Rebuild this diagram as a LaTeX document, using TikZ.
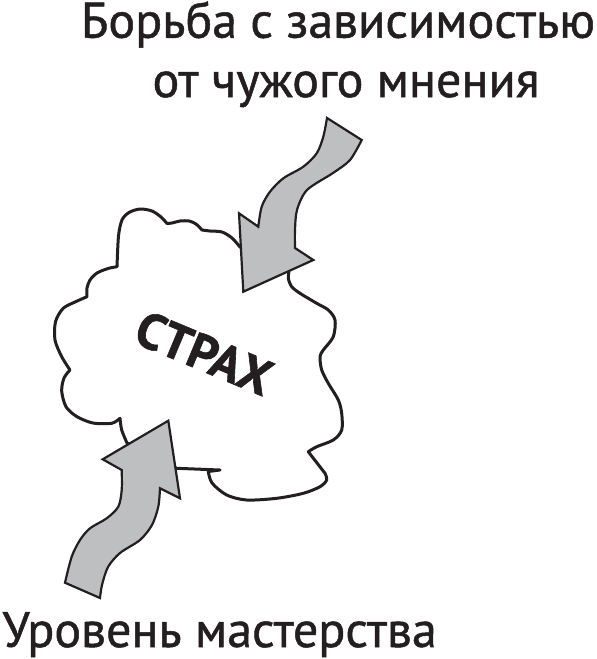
\documentclass[tikz,border=0pt]{standalone}
\usepackage{fontspec}
\setmainfont{PT Sans}
\newfontfamily\labelfont[FakeBold=1]{PT Sans}
\newfontfamily\fearfont[FakeBold=1.2]{PT Sans Bold}
\definecolor{ink}{RGB}{35,31,32}
\definecolor{arrowgray}{RGB}{190,191,193}
\tikzset{
  label/.style={inner sep=0pt, text=ink, font=\labelfont\fontsize{50}{54}\selectfont},
  fearlabel/.style={inner sep=0pt, text=ink, font=\fearfont\fontsize{50}{54}\selectfont},
  cloudline/.style={draw=ink, fill=white, line width=3pt, line join=round},
  bigarrow/.style={draw=ink, fill=arrowgray, line width=2.2pt, line join=miter},
}
\begin{document}
\begin{tikzpicture}[x=1pt,y=-1pt]
\useasboundingbox (0,0) rectangle (597,659);
% cloud
\draw[cloudline]
  plot[smooth] coordinates {(240,247) (232,238) (222,232) (210,231) (202,230)}
  -- plot[smooth] coordinates {(202,230) (196,224) (189,221) (180,221) (172,223) (167,223.5)}
  -- plot[smooth] coordinates {(167,223.5) (161,217) (152,211) (140,209) (129,212.5) (122,220) (118.5,236) (117,266.7)}
  -- plot[smooth] coordinates {(117,266.7) (108,268.5) (97,273) (90,280) (87,288) (87,296.7)}
  -- plot[smooth] coordinates {(87,296.7) (75,302) (63,308.5) (55.5,321.7) (55,340) (61.7,356.7) (70,370)}
  -- plot[smooth] coordinates {(70,370) (64,378) (61.7,391) (66,406.7) (77,416.7) (93,423) (111.7,423.3) (120,418.3)}
  -- plot[smooth] coordinates {(120,418.3) (121.7,430) (127,443)}
  -- (176.7,468.3) -- (220,470) -- (208.3,471.5)
  -- plot[smooth] coordinates {(208.3,471.5) (212,483) (226.7,495) (246.7,500) (276.7,498.3) (303.3,493.3) (320,486.7) (326.7,480) (325,473.3)}
  -- (308.3,451.7)
  -- plot[smooth] coordinates {(308.3,451.7) (316.7,446.7) (333.3,440) (341.7,430) (341.7,413.3) (338.3,400) (328.3,383.3) (321.7,370) (320,356.7) (323.3,350) (333.3,336.7) (335,320) (328.3,310) (316.7,303.3) (300,293.3) (291.7,286.7) (288.3,278.3) (289,272)}
  -- cycle;
\node[fearlabel, rotate=-22.7] (fear) at (204,353) {СТРАХ};
% top arrow
\draw[bigarrow]
  (327,118) -- (361.7,140)
  -- plot[smooth] coordinates {(361.7,140) (350,160) (333,173) (307,190) (297,210) (295,230) (295,248)}
  -- (313.3,260) -- (243.3,291.7) -- (239,213.3) -- (258.3,226.7)
  -- plot[smooth] coordinates {(258.3,226.7) (261.7,206.7) (270,191.7) (283.3,178.3) (303.3,166.7) (316.7,153.3) (323.3,136.7) (327,118)}
  -- cycle;
% bottom arrow
\draw[bigarrow]
  (168.3,420.7) -- (180,498.3) -- (160,488.3)
  -- plot[smooth] coordinates {(160,488.3) (158.3,506.7) (152,525) (140,540) (120,553) (108,567) (102,585) (100,598)}
  -- (65,582.7)
  -- plot[smooth] coordinates {(65,582.7) (71.7,556.7) (80,540) (90,528.3) (106.7,518.3) (118.3,506.7) (121.7,490) (121.7,470)}
  -- (102.7,459.3) -- cycle;
% labels
\node[label, anchor=base] (top1) at (338,37.7) {Борьба с зависимостью};
\node[label, anchor=base] (top2) at (346,97) {от чужого мнения};
\node[label, anchor=base west] (bottom) at (2,647) {Уровень мастерства};
\end{tikzpicture}
\end{document}
